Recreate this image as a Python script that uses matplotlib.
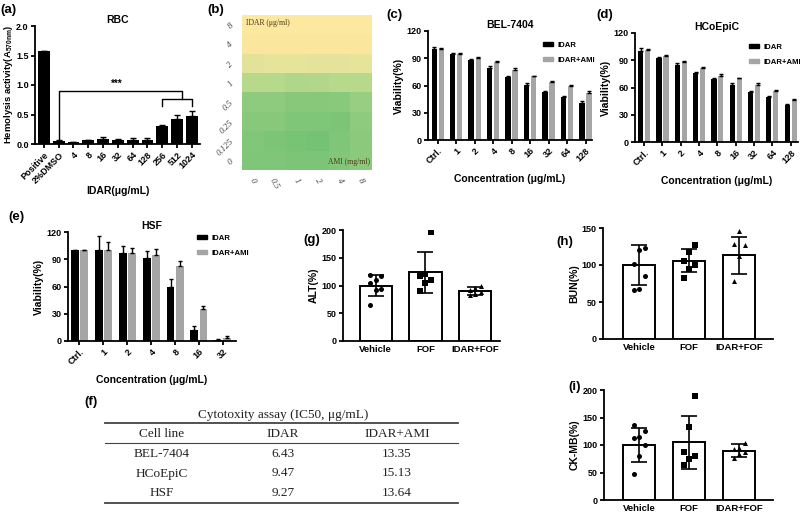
import numpy as np
import matplotlib
matplotlib.use("Agg")
import matplotlib.pyplot as plt
from matplotlib.colors import LinearSegmentedColormap
from matplotlib.patches import Patch

plt.rcParams['font.family'] = ['Liberation Sans', 'DejaVu Sans']
plt.rcParams['font.weight'] = 'bold'
plt.rcParams['axes.labelweight'] = 'bold'
plt.rcParams['mathtext.default'] = 'regular'

# ---- (a) hemolysis ----
hemo_labels = ["Positive", "2%DMSO", "4", "8", "16", "32", "64", "128", "256", "512", "1024"]
hemo_vals = [1.58, 0.05, 0.03, 0.06, 0.08, 0.07, 0.07, 0.07, 0.30, 0.43, 0.48]
hemo_err = [0.0, 0.01, 0.0, 0.01, 0.04, 0.01, 0.04, 0.03, 0.03, 0.06, 0.08]

# ---- (b) checkerboard ----
idar_conc = ["8", "4", "2", "1", "0.5", "0.25", "0.125", "0"]
ami_conc = ["0", "0.5", "1", "2", "4", "8"]
checker = [
    [1.00, 1.00, 1.00, 1.00, 1.00, 1.00],
    [0.99, 0.99, 0.99, 0.99, 0.99, 0.99],
    [0.82, 0.84, 0.84, 0.83, 0.83, 0.84],
    [0.60, 0.60, 0.57, 0.58, 0.60, 0.60],
    [0.40, 0.40, 0.34, 0.34, 0.36, 0.45],
    [0.34, 0.34, 0.28, 0.28, 0.25, 0.40],
    [0.30, 0.25, 0.22, 0.18, 0.28, 0.38],
    [0.28, 0.28, 0.25, 0.25, 0.30, 0.38],
]

# ---- (c) (d) (e) viability ----
conc9 = ["Ctrl.", "1", "2", "4", "8", "16", "32", "64", "128"]
bel_idar = [100, 95, 88, 79, 69, 61, 53, 47, 41]
bel_idar_err = [2, 1, 1, 2, 1, 2, 1, 1, 1.5]
bel_ami = [100, 95, 90, 86, 77, 70, 64, 60, 52]
bel_ami_err = [1, 1, 1, 1, 2, 1, 1, 1, 1.5]

hco_idar = [100, 93, 85, 76, 69, 63, 55, 49, 41]
hco_idar_err = [3, 1, 1.5, 1, 1.5, 2, 1, 1.5, 1]
hco_ami = [101, 95, 88, 81, 73, 70, 63, 56, 46]
hco_ami_err = [1, 1, 1.5, 1.5, 1.5, 1, 2, 1.5, 1.5]

conc7 = ["Ctrl.", "1", "2", "4", "8", "16", "32"]
hsf_idar = [100, 100, 97, 91, 60, 12, 1]
hsf_idar_err = [0, 16, 8, 8, 8, 4, 1]
hsf_ami = [100, 100, 97, 95, 83, 35, 3]
hsf_ami_err = [0, 9, 5, 6, 5, 3, 2]

# ---- (f) table ----
table_title = "Cytotoxity assay (IC50, μg/mL)"
table_header = ["Cell line", "IDAR", "IDAR+AMI"]
cell_lines = ["BEL-7404", "HCoEpiC", "HSF"]
ic50_idar = ["6.43", "9.47", "9.27"]
ic50_ami = ["13.35", "15.13", "13.64"]

# ---- (g) (h) (i) serum markers ----
groups = ["Vehicle", "FOF", "IDAR+FOF"]
alt_mean = [100, 124, 90]
alt_sd = [19, 37, 7]
alt_pts = [[65, 92, 93, 105, 110, 118, 119], [90, 105, 110, 117, 120, 197], [82, 85, 88, 92, 95, 100]]
bun_mean = [100, 106, 113]
bun_sd = [27, 16, 25]
bun_pts = [[66, 68, 85, 101, 120, 123], [82, 95, 100, 106, 118, 127], [79, 112, 127, 128, 146]]
ck_mean = [100, 105, 90]
ck_sd = [31, 48, 11]
ck_pts = [[48, 80, 100, 112, 114, 126, 137], [63, 75, 80, 88, 132, 190], [77, 83, 88, 93, 95, 103]]

W, H = 800, 515
fig = plt.figure(figsize=(W / 100, H / 100), dpi=100)


def box(l, t, r, b):
    return fig.add_axes([l / W, 1 - b / H, (r - l) / W, (b - t) / H])


def gp_style(ax, fs=6.5):
    for s in ['top', 'right']:
        ax.spines[s].set_visible(False)
    for s in ['left', 'bottom']:
        ax.spines[s].set_linewidth(1.3)
    ax.tick_params(width=1.3, length=3, labelsize=fs, pad=1.5)


def grouped(ax, labels, a, ae, b, be, off, w, legend_xy):
    x = np.arange(len(labels))
    ax.bar(x - off, a, w, color='black', yerr=[np.zeros(len(a)), ae],
           error_kw=dict(ecolor='black', elinewidth=1, capsize=1.5, capthick=1))
    ax.bar(x + off, b, w, color='#a5a5a5', yerr=[np.zeros(len(b)), be],
           error_kw=dict(ecolor='black', elinewidth=1, capsize=1.5, capthick=1))
    ax.set_ylim(0, 120)
    ax.set_yticks([0, 30, 60, 90, 120])
    ax.set_xticks(x)
    ax.set_xticklabels(labels, rotation=45, ha='right', rotation_mode='anchor')
    ax.set_ylabel("Viability(%)", fontsize=7.5, labelpad=2)
    ax.set_xlabel("Concentration (μg/mL)", fontsize=7.5, labelpad=6)
    handles = [Patch(color='black', label='IDAR'), Patch(color='#a5a5a5', label='IDAR+AMI')]
    ax.legend(handles=handles, loc='upper left', bbox_to_anchor=legend_xy, frameon=False,
              fontsize=5.6, handlelength=1.3, handleheight=0.45, labelspacing=1.0,
              borderaxespad=0, handletextpad=0.6)


def dotbar(ax, means, sds, pts, top, step):
    markers = ['o', 's', '^']
    for i, (m, s, p) in enumerate(zip(means, sds, pts)):
        ax.bar(i, m, 0.65, facecolor='white', edgecolor='black', linewidth=1.4, zorder=1)
        ax.errorbar(i, m, yerr=s, color='black', capsize=6, elinewidth=1.2, capthick=1.2, zorder=2)
        n = len(p)
        offs = ((np.arange(n) % 3) - 1) * 0.11
        ax.scatter(i + offs, p, marker=markers[i], s=13, color='black', zorder=3, linewidths=0)
    ax.set_ylim(0, top)
    ax.set_yticks(np.arange(0, top + 1, step))
    ax.set_xticks(range(len(means)))
    ax.set_xticklabels(groups, fontsize=6.8)
    ax.tick_params(axis='x', length=0, pad=3)


# (a)
ax = box(35, 26, 200, 144)
gp_style(ax)
xa = np.arange(len(hemo_vals))
ax.bar(xa, hemo_vals, 0.8, color='black', yerr=[np.zeros(len(hemo_err)), hemo_err],
       error_kw=dict(ecolor='black', elinewidth=1, capsize=2, capthick=1))
ax.set_ylim(0, 2.0)
ax.set_yticks([0, 0.5, 1.0, 1.5, 2.0])
ax.set_yticklabels(["0.0", "0.5", "1.0", "1.5", "2.0"])
ax.set_xlim(-0.6, 10.55)
ax.set_xticks(xa)
ax.set_xticklabels(hemo_labels, rotation=45, ha='right', rotation_mode='anchor', fontsize=6.5)
ax.set_ylabel("Hemolysis activity(A$_{570nm}$)", fontsize=6.8, labelpad=1)
ax.set_xlabel("IDAR(μg/mL)", fontsize=7.5, labelpad=1)
ax.set_title("RBC", fontsize=7.5, fontweight='bold', pad=2)
ax.plot([1, 1, 9.3, 9.3], [0.08, 0.90, 0.90, 0.76], color='black', lw=1)
ax.plot([8, 8, 10, 10], [0.64, 0.76, 0.76, 0.64], color='black', lw=1)
ax.text(4.9, 0.93, "***", ha='center', va='bottom', fontsize=7)

# (b)
ax = box(242, 15, 372, 170)
cmap = LinearSegmentedColormap.from_list(
    "gy", [(0.0, "#5fbd6c"), (0.4, "#8ecb7e"), (0.6, "#b7d98c"), (0.83, "#e5e39b"), (1.0, "#fce89e")])
ax.imshow(np.array(checker), cmap=cmap, vmin=0, vmax=1, aspect='auto', interpolation='nearest')
for s in ax.spines.values():
    s.set_visible(False)
ax.set_yticks(range(len(idar_conc)))
ax.set_yticklabels(idar_conc, rotation=45, fontstyle='italic', fontweight='normal',
                   family='Liberation Serif', color='#444444', fontsize=6.5)
ax.set_xticks(range(len(ami_conc)))
ax.set_xticklabels(ami_conc, rotation=-60, fontstyle='italic', fontweight='normal',
                   family='Liberation Serif', color='#444444', fontsize=6.5)
ax.tick_params(length=0, pad=5)
ax.text(0.03, 0.975, "IDAR (μg/ml)", transform=ax.transAxes, ha='left', va='top', fontsize=5.5,
        family='Liberation Serif', fontweight='normal', color='#4a3a15')
ax.text(0.985, 0.025, "AMI (mg/ml)", transform=ax.transAxes, ha='right', va='bottom', fontsize=5.5,
        family='Liberation Serif', fontweight='normal', color='#4a3a15')

# (c)
ax = box(428, 31, 592, 140)
gp_style(ax)
grouped(ax, conc9, bel_idar, bel_idar_err, bel_ami, bel_ami_err, 0.19, 0.28, (0.68, 0.93))
ax.set_xlim(-0.52, 8.35)
ax.set_title("BEL-7404", fontsize=7.5, fontweight='bold', pad=2)

# (d)
ax = box(635, 33, 798, 142)
gp_style(ax)
grouped(ax, conc9, hco_idar, hco_idar_err, hco_ami, hco_ami_err, 0.19, 0.28, (0.68, 0.93))
ax.set_xlim(-0.5, 8.4)
ax.set_title("HCoEpiC", fontsize=7.5, fontweight='bold', pad=2)

# (e)
ax = box(68, 232, 236, 341)
gp_style(ax)
grouped(ax, conc7, hsf_idar, hsf_idar_err, hsf_ami, hsf_ami_err, 0.19, 0.33, (0.75, 1.0))
ax.set_xlim(-0.48, 6.55)
ax.set_title("HSF", fontsize=7.5, fontweight='bold', pad=2)

# (f) table
ax = box(100, 403, 462, 508)
ax.set_xlim(100, 462)
ax.set_ylim(508, 403)
ax.axis('off')
serif = dict(family='Liberation Serif', fontweight='normal', fontsize=9.5, color='#222222')
ax.text(283, 415, table_title, ha='center', va='center', **serif)
ax.plot([105, 458], [423, 423], color='#444444', lw=1.3)
ax.plot([105, 458], [443, 443], color='#444444', lw=0.8)
ax.plot([105, 458], [503, 503], color='#444444', lw=1.3)
col_x = [162, 283, 397]
for cx, h in zip(col_x, table_header):
    ax.text(cx, 434, h, ha='center', va='center', **serif)
for k, (c, v1, v2) in enumerate(zip(cell_lines, ic50_idar, ic50_ami)):
    yy = 454 + k * 19.5
    for cx, t in zip(col_x, [c, v1, v2]):
        ax.text(cx, yy, t, ha='center', va='center', **serif)

# (g)
ax = box(343, 230, 500, 341)
gp_style(ax)
dotbar(ax, alt_mean, alt_sd, alt_pts, 200, 50)
ax.set_xlim(-0.66, 2.5)
ax.set_ylabel("ALT(%)", fontsize=7.5, labelpad=2)

# (h)
ax = box(603, 228, 773, 339)
gp_style(ax)
dotbar(ax, bun_mean, bun_sd, bun_pts, 150, 50)
ax.set_xlim(-0.72, 2.68)
ax.set_ylabel("BUN(%)", fontsize=7.5, labelpad=2)

# (i)
ax = box(604, 390, 773, 500)
gp_style(ax)
dotbar(ax, ck_mean, ck_sd, ck_pts, 200, 50)
ax.set_xlim(-0.7, 2.68)
ax.set_ylabel("CK-MB(%)", fontsize=7.5, labelpad=2)

# panel letters
letters = [("(a)", 0, 4), ("(b)", 207, 4), ("(c)", 386, 9), ("(d)", 596, 9), ("(e)", 8, 211),
           ("(g)", 303, 234), ("(h)", 556, 236), ("(i)", 568, 381), ("(f)", 84, 396)]
for t, px, py in letters:
    fig.text(px / W, 1 - py / H, t, ha='left', va='top', fontsize=9.5, fontweight='bold')

fig.savefig("out.png", dpi=100)
